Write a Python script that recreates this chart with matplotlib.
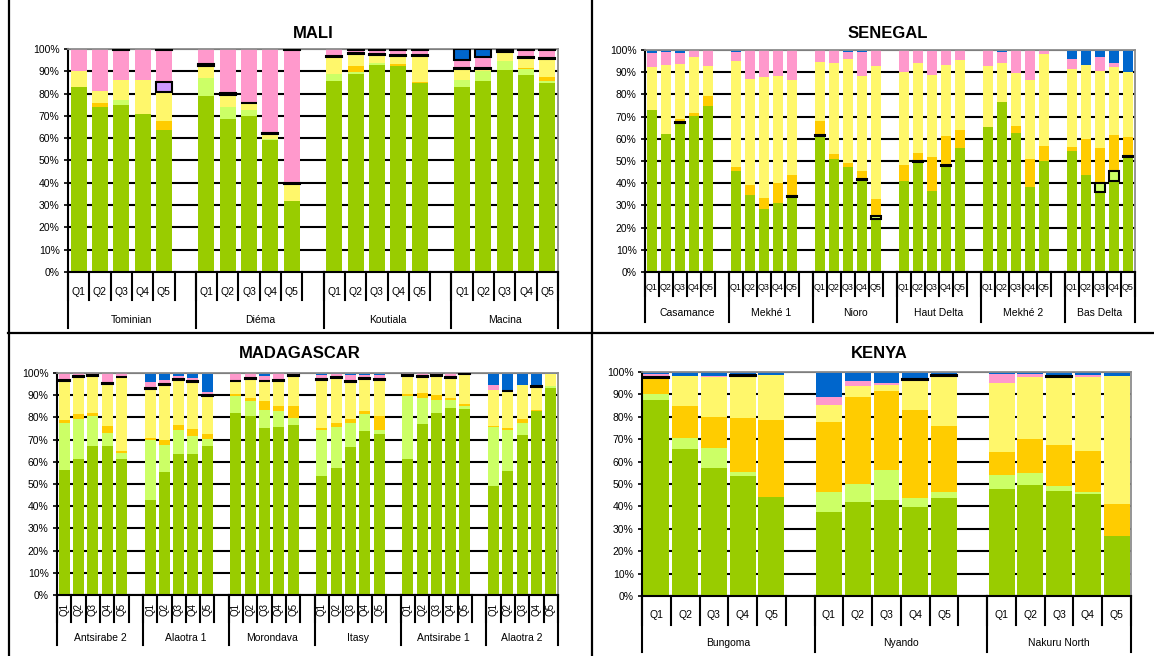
import numpy as np
import matplotlib
matplotlib.use('Agg')
import matplotlib.pyplot as plt
from matplotlib.lines import Line2D
from matplotlib.transforms import blended_transform_factory

plt.rcParams['font.family'] = ['Liberation Sans', 'DejaVu Sans']

# ---------------- data ----------------
QUINTILES = ['Q1', 'Q2', 'Q3', 'Q4', 'Q5']
PCT_TICKS = list(range(0, 101, 10))
PCT_LABELS = [f'{v}%' for v in PCT_TICKS]

# series order (bottom -> top)
SERIES_NAMES = ['green', 'lightgreen', 'orange', 'yellow', 'lavender', 'pink', 'blue']
SERIES_COLORS = ['#99CC00', '#CCFF66', '#FFCC00', '#FFF76B', '#CC99FF', '#FF99CC', '#0066CC']

MALI_GROUPS = ['Tominian', 'Diéma', 'Koutiala', 'Macina']
MALI_GREEN = [83, 74, 75, 71, 63.5, 79, 68.5, 69.8, 59, 32, 85.5, 88.9, 93, 92.2, 84.8, 82.8, 85.5, 90.7, 88.2, 84.8]
MALI_LGREEN = [0, 0, 2, 0, 0, 8, 5.3, 3, 0.8, 0, 3.3, 0.8, 0.9, 0, 0, 3.2, 4.5, 3.8, 2.8, 0.7]
MALI_ORANGE = [0, 2, 0, 0, 4, 0, 0, 0, 0, 0, 0, 2.8, 0, 0.9, 0.6, 0, 0, 0, 0.5, 1.8]
MALI_YELLOW = [7, 5, 9, 15, 13, 5.5, 5.6, 2.8, 2.2, 7.5, 7.6, 5.3, 3.4, 3.6, 11.3, 5, 1, 4, 4.5, 8.2]
MALI_LAVENDER = [0, 0, 0, 0, 4.5, 0.6, 0.8, 0.4, 0.5, 0.3, 0.5, 0.4, 0.5, 0.5, 0.4, 0.6, 0.4, 0.8, 0.4, 0.5]
MALI_PINK = [10, 19, 13.7, 14, 14.7, 6.9, 19.8, 24, 37.5, 59.9, 3.1, 1.5, 1.9, 2.5, 2.6, 3.6, 4.8, 0.4, 3.3, 3.7]
MALI_BLUE = [0, 0, 0.3, 0, 0.3, 0, 0, 0, 0, 0.3, 0, 0.3, 0.3, 0.3, 0.3, 4.8, 3.8, 0.3, 0.3, 0.3]

SEN_GROUPS = ['Casamance', 'Mekhé 1', 'Nioro', 'Haut Delta', 'Mekhé 2', 'Bas Delta']
SEN_GREEN = [73, 62.2, 67.1, 70.3, 74.8, 45.3, 34.5, 28.3, 31, 34, 61.3, 50.8, 47.1, 41.3, 23.8,
             41.2, 49.6, 36.3, 47.8, 55.9, 65.1, 76.8, 62.4, 38.2, 50.1, 54.3, 43.5, 36, 41.2, 51.8]
SEN_LGREEN = [0, 0, 0.4, 0, 0, 0, 0, 0, 0, 0.4, 0.6, 0, 0, 0.4, 1.2,
              0, 0.5, 0, 0.4, 0, 0, 0, 0, 0, 0, 0, 0, 4, 4.5, 0.4]
SEN_ORANGE = [0, 0, 1.3, 1.4, 4.5, 2.2, 4.5, 5, 9, 9.4, 5.9, 2.3, 2.2, 4, 8,
              7.1, 3.4, 15.3, 13.1, 8.1, 0, 0, 3.4, 12.8, 6.7, 2.2, 16.5, 15.8, 16.1, 8.5]
SEN_YELLOW = [19.2, 31.1, 24.8, 25, 13.5, 47.7, 48.1, 54.4, 48.3, 42.7, 27, 41.2, 46.7, 42.8, 59.8,
              42, 40.5, 37.2, 32, 31.5, 27.7, 17.5, 23.7, 35.5, 41.4, 34.8, 33.3, 34.9, 30.7, 29.3]
SEN_LAVENDER = [0] * 30
SEN_PINK = [6.6, 6, 4.9, 3.3, 7, 3.9, 12.9, 12.3, 11.7, 13.5, 5.2, 5.7, 3.3, 10.8, 7.2,
            9.7, 6, 10.8, 6.7, 4.5, 7.2, 5, 10.5, 13.5, 1.8, 4.5, 0, 6, 1.8, 0]
SEN_BLUE = [1.2, 0.7, 1.5, 0, 0.2, 0.9, 0, 0, 0, 0, 0, 0, 0.7, 0.7, 0,
            0, 0, 0.4, 0, 0, 0, 0.7, 0, 0, 0, 4.2, 6.7, 3.3, 5.7, 10]

MAD_GROUPS = ['Antsirabe 2', 'Alaotra 1', 'Morondava', 'Itasy', 'Antsirabe 1', 'Alaotra 2']
MAD_GREEN = [56.4, 61.4, 67.2, 67.2, 61.4, 42.6, 55.2, 63.6, 63.6, 66.9, 82, 80.5, 75.2, 75.9, 76.7,
             53.7, 57.4, 66.5, 73.7, 72.6, 61.4, 77.1, 82, 84.4, 83.9, 49.3, 55.9, 72.2, 82.7, 93.2]
MAD_LGREEN = [21, 18.1, 13.6, 5.7, 2.5, 27, 12.5, 10.8, 8.1, 3.3, 7.5, 7, 8, 6.8, 3,
              20.7, 18.2, 10.9, 8, 1.8, 28.4, 11.8, 6, 3.3, 1.1, 26.3, 18.5, 5.5, 0, 0.8]
MAD_ORANGE = [1.5, 2.2, 1.2, 3.3, 1.1, 0.9, 1.9, 2.3, 3, 2.4, 0.9, 1.1, 4.3, 2.3, 5.6,
              0.8, 2.1, 2, 1, 6.4, 0.6, 2.1, 2.2, 0.9, 1.2, 0.6, 0.9, 1.5, 0.8, 0]
MAD_YELLOW = [17.3, 16.5, 16.8, 19, 33, 22.3, 25.1, 20.3, 21.1, 16.9, 5.8, 8.7, 8.7, 11.4, 13.2,
              21.5, 20, 16.4, 14.7, 15.9, 8.4, 7.2, 8.6, 9.1, 13.4, 16, 16.4, 15.2, 10.2, 5.5]
MAD_LAVENDER = [0.5, 0.4, 0.4, 0.4, 0.4, 0.5, 0.5, 0.4, 0.4, 0.4, 0.4, 0.4, 0.4, 0.4, 0.4,
                0.4, 0.4, 0.4, 0.4, 0.4, 0.4, 0.4, 0.4, 0.4, 0.4, 0, 0.4, 0, 0.4, 0]
MAD_PINK = [3.3, 1.4, 0.8, 4.4, 1.6, 2.5, 1.5, 1.1, 1.5, 1.4, 3.4, 2.3, 1.9, 3.2, 1.1,
            1.8, 1.4, 2.7, 1.1, 1.8, 0.8, 1.4, 0.8, 1.9, 0, 2.4, 0.3, 0, 0, 0]
MAD_BLUE = [0, 0, 0, 0, 0, 4.2, 3.3, 1.5, 2.3, 8.7, 0, 0, 1.5, 0, 0,
            1.1, 0.5, 1.1, 1.1, 1.1, 0, 0, 0, 0, 0, 5.4, 7.6, 5.6, 5.9, 0.5]

KEN_GROUPS = ['Bungoma', 'Nyando', 'Nakuru North']
KEN_GREEN = [87.6, 65.7, 57.3, 53.7, 44.3, 37.6, 42.1, 42.7, 39.7, 43.7, 47.6, 49.7, 46.9, 45.7, 26.7]
KEN_LGREEN = [2.5, 4.7, 8.7, 1.8, 0, 9, 7.8, 13.4, 4, 2.7, 6.3, 5.2, 2.1, 0.7, 0]
KEN_ORANGE = [6.9, 14.5, 13.9, 23.8, 34.4, 30.9, 38.8, 35.5, 39.3, 29.4, 10.4, 15, 18.3, 18.2, 14.5]
KEN_YELLOW = [0.3, 13.5, 17.9, 18.8, 20.1, 7.6, 4.9, 2.6, 13.4, 22.6, 30.6, 28, 30.3, 33, 57.2]
KEN_LAVENDER = [0.4, 0, 0, 0.4, 0, 0, 0, 0, 0.4, 0.3, 0, 0, 0.4, 0, 0]
KEN_PINK = [1.4, 0, 0.6, 0, 0, 3.6, 2.5, 1, 0.4, 0, 4.1, 1.1, 0.8, 1.1, 0]
KEN_BLUE = [0.9, 1.6, 1.6, 1.5, 1.2, 11.3, 3.9, 4.8, 2.8, 1.3, 1, 1, 1.2, 1.3, 1.6]

# ---------------- figure ----------------
W, H = 1154, 656
fig = plt.figure(figsize=(W / 100, H / 100), dpi=100)
fig.patch.set_facecolor('white')


def draw_panel(rect, title, title_xy, groups, series, outlined, bar_w,
               short_px, long_px, qlab_px, glab_px, qrot, qsize):
    x0, y0, x1, y1 = rect
    hpx = y1 - y0
    ax = fig.add_axes([x0 / W, 1 - y1 / H, (x1 - x0) / W, hpx / H])
    ng = len(groups)
    nslots = ng * 6 - 1
    pos = np.array([g * 6 + q for g in range(ng) for q in range(5)], float)
    bottom = np.zeros(len(pos))
    for name, vals, color in zip(SERIES_NAMES, series, SERIES_COLORS):
        v = np.asarray(vals, float)
        m = v > 0
        if m.any():
            if name in outlined:
                ax.bar(pos[m], v[m], bar_w, bottom=bottom[m], color=color,
                       edgecolor='black', linewidth=1.5, zorder=3)
            else:
                ax.bar(pos[m], v[m], bar_w, bottom=bottom[m], color=color,
                       edgecolor='none', linewidth=0, zorder=2)
        bottom += v
    ax.set_xlim(-0.5, nslots - 0.5)
    ax.set_ylim(0, 100)
    ax.set_yticks(PCT_TICKS)
    ax.set_yticklabels(PCT_LABELS)
    ax.set_xticks([])
    ax.yaxis.grid(True, color='black', linewidth=1.5)
    ax.set_axisbelow(True)
    ax.tick_params(axis='y', direction='out', length=3, width=1.2,
                   labelsize=7.5, pad=3, colors='black')
    for s in ('left', 'bottom'):
        ax.spines[s].set_color('black')
        ax.spines[s].set_linewidth(1.5)
    for s in ('top', 'right'):
        ax.spines[s].set_color('#8c8c8c')
        ax.spines[s].set_linewidth(1.3)

    tr = blended_transform_factory(ax.transData, ax.transAxes)
    sf = -short_px / hpx
    lf = -long_px / hpx
    for b in np.arange(-0.5, nslots, 1.0):
        ax.add_line(Line2D([b, b], [0, sf], transform=tr, color='black',
                           lw=1.5, clip_on=False))
    gb = [g * 6 - 0.5 for g in range(ng)] + [nslots - 0.5]
    for b in gb:
        ax.add_line(Line2D([b, b], [0, lf], transform=tr, color='black',
                           lw=1.5, clip_on=False))
    qy = -(qlab_px - y1) / hpx
    for i, p in enumerate(pos):
        ax.text(p, qy, QUINTILES[i % 5], transform=tr, ha='center', va='center',
                fontsize=qsize, rotation=qrot, clip_on=False)
    gy = -(glab_px - y1) / hpx
    for g, name in enumerate(groups):
        cnt = min(6, nslots - g * 6)
        cx = g * 6 + (cnt - 1) / 2
        ax.text(cx, gy, name, transform=tr, ha='center', va='center',
                fontsize=7.5, clip_on=False)
    fig.text(title_xy[0] / W, 1 - title_xy[1] / H, title, ha='center', va='center',
             fontsize=12, fontweight='bold')
    return ax


draw_panel((68, 49, 558, 272), 'MALI', (313, 34), MALI_GROUPS,
           [MALI_GREEN, MALI_LGREEN, MALI_ORANGE, MALI_YELLOW, MALI_LAVENDER, MALI_PINK, MALI_BLUE],
           {'lavender', 'blue'}, 0.75, 28, 56, 292, 320, 0, 7.5)

draw_panel((645, 50, 1135, 272), 'SENEGAL', (888, 34), SEN_GROUPS,
           [SEN_GREEN, SEN_LGREEN, SEN_ORANGE, SEN_YELLOW, SEN_LAVENDER, SEN_PINK, SEN_BLUE],
           {'lightgreen'}, 0.78, 24, 50, 288, 313, 0, 6.5)

draw_panel((57, 373, 558, 595), 'MADAGASCAR', (300, 354), MAD_GROUPS,
           [MAD_GREEN, MAD_LGREEN, MAD_ORANGE, MAD_YELLOW, MAD_LAVENDER, MAD_PINK, MAD_BLUE],
           {'lavender'}, 0.77, 27, 50, 609, 638, 90, 7)

draw_panel((642, 372, 1131, 596), 'KENYA', (879, 354), KEN_GROUPS,
           [KEN_GREEN, KEN_LGREEN, KEN_ORANGE, KEN_YELLOW, KEN_LAVENDER, KEN_PINK, KEN_BLUE],
           {'lavender'}, 0.9, 29, 56, 615, 643, 0, 7.5)

# panel frame lines
for (xa, ya, xb, yb) in [(8.5, 0, 8.5, H), (591.5, 0, 591.5, H), (8, 333, W, 333)]:
    fig.add_artist(Line2D([xa / W, xb / W], [1 - ya / H, 1 - yb / H],
                          transform=fig.transFigure, color='black', lw=1.6))

fig.savefig('out.png', dpi=100)
